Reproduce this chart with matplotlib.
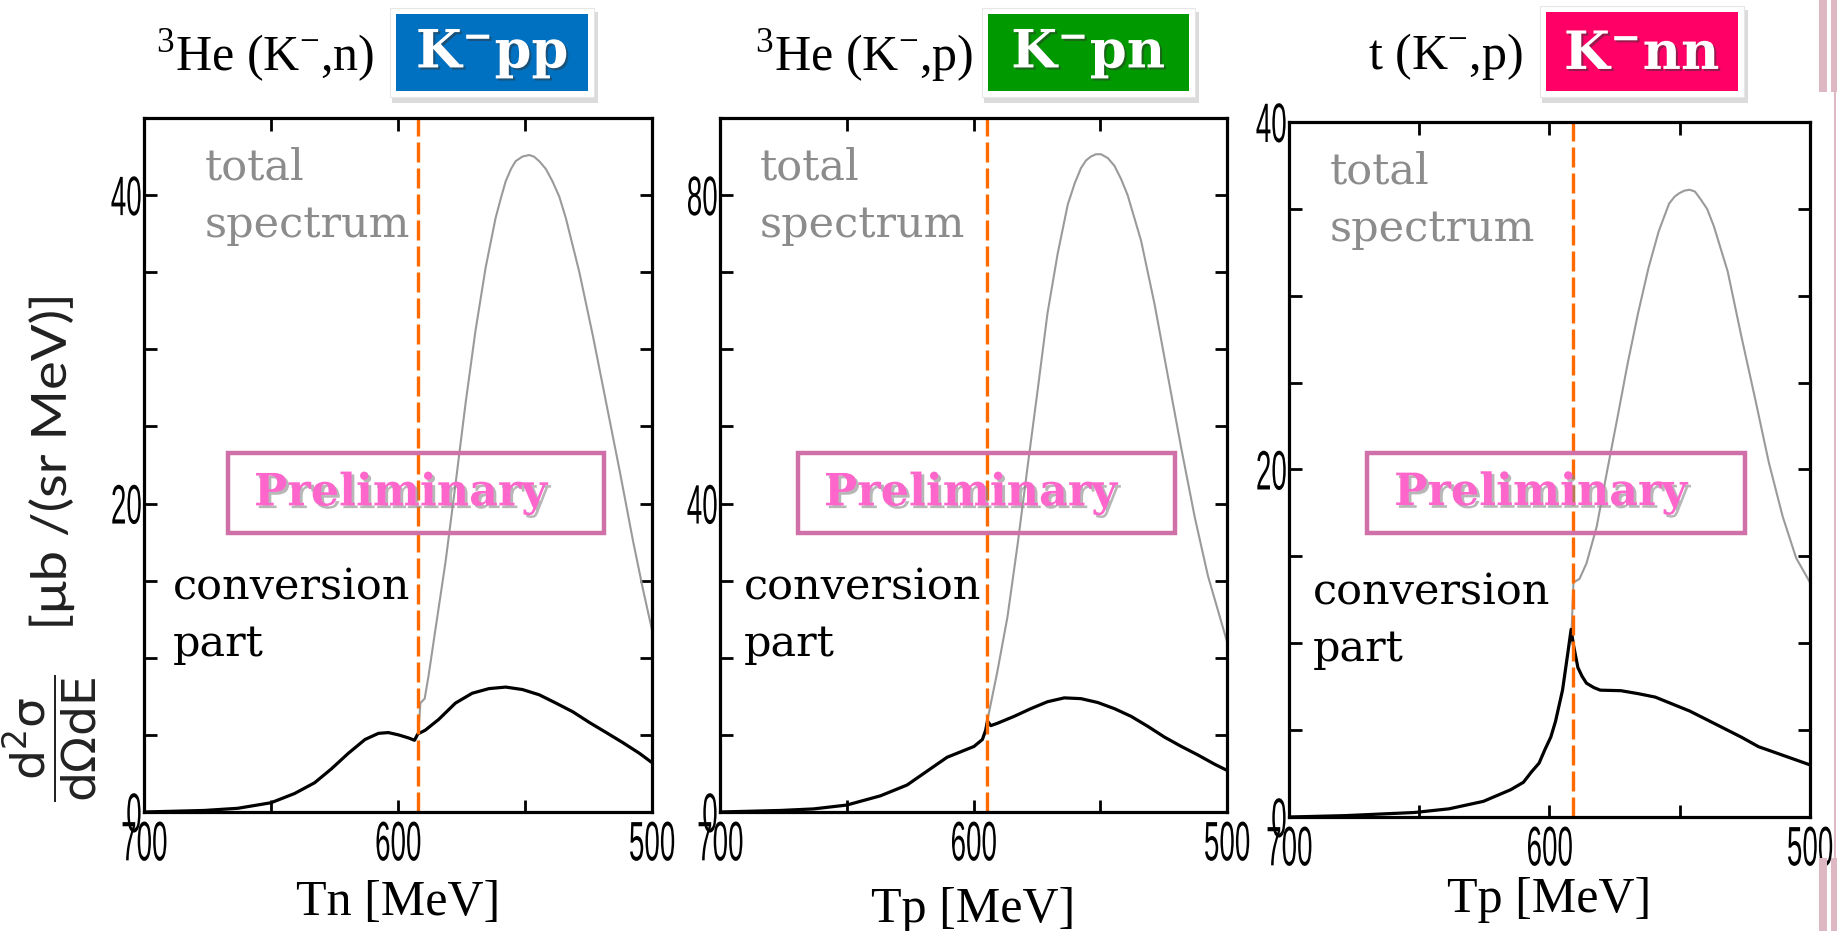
import matplotlib
matplotlib.use('Agg')
import matplotlib.pyplot as plt
from matplotlib.ticker import MultipleLocator
from matplotlib.patches import Rectangle
from matplotlib.transforms import Affine2D
import matplotlib.patheffects as pe

# ---- data ----
# K-pp : 3He(K-,n)
kpp_conv_t = [700, 676.3, 663.1, 650, 640.7, 632.8, 626.2, 619.6, 613, 607.7, 603.8, 599.8, 595.8, 593.5,
              592.2, 589.3, 584, 577.4, 570.8, 564.2, 557.6, 551, 544.4, 537.8, 531.2, 524.6, 518, 511.5, 504.9, 500]
kpp_conv_y = [0, 0.1, 0.24, 0.6, 1.2, 1.9, 2.8, 3.8, 4.7, 5.1, 5.15, 5.0, 4.8, 4.65,
              5.06, 5.3, 6.0, 7.06, 7.7, 8.0, 8.1, 7.94, 7.6, 7.06, 6.5, 5.8, 5.15, 4.5, 3.8, 3.2]
kpp_tot_t = [592, 591.2, 589.5, 588, 585.3, 581.3, 577.4, 573.4, 569.5, 565.5, 561.6, 559.5, 557.6, 555.5,
             553.7, 551, 548.4, 546.5, 544.4, 541.8, 539.2, 536.5, 533.9, 528.6, 523.3, 518, 512.7, 507.5,
             503.5, 500]
kpp_tot_y = [5.06, 7.06, 7.35, 8.8, 11.8, 16.2, 21.2, 26.5, 31.2, 35.3, 38.5, 39.8, 40.9, 41.7,
             42.2, 42.5, 42.6, 42.5, 42.2, 41.7, 40.9, 39.9, 38.5, 35.0, 30.9, 26.5, 22.1, 17.6,
             14.4, 11.8]
kpp_thr = 592

# K-pn : 3He(K-,p)
kpn_conv_t = [700, 676.3, 663.1, 650, 636.7, 626.2, 617, 610.4, 605.1, 599.8, 596.5, 595.2, 594.5, 593.2,
              590.6, 584, 577.4, 570.8, 564.2, 557.6, 551, 544.4, 537.8, 531.2, 524.6, 518, 511.5, 504.9, 500]
kpn_conv_y = [0, 0.2, 0.4, 0.9, 2.1, 3.5, 5.6, 7.1, 7.8, 8.5, 9.4, 10.6, 11.8, 11.2,
              11.5, 12.4, 13.4, 14.3, 14.8, 14.7, 14.2, 13.4, 12.4, 11.1, 9.7, 8.5, 7.4, 6.2, 5.4]
kpn_tot_t = [594.5, 594.2, 590.6, 586.6, 582.6, 578.7, 574.7, 570.8, 566.8, 562.8, 560, 557.6, 555.6,
             553.7, 551.7, 549.7, 547, 544.4, 541.8, 539.2, 533.9, 528.6, 523.3, 518, 512.7, 507.5, 500]
kpn_tot_y = [11.8, 12.4, 18.2, 25.3, 34.7, 44.7, 54.7, 64.7, 72.4, 78.8, 81.6, 83.5, 84.5,
             85.0, 85.3, 85.3, 84.8, 83.8, 82.1, 80.0, 74.1, 65.9, 56.5, 47.1, 38.2, 30.6, 22.1]
kpn_thr = 594.5

# K-nn : t(K-,p)
knn_conv_t = [700, 678.2, 651.8, 638.6, 625.4, 614.9, 610, 606.9, 604, 601.7, 599.5, 597.7, 595, 593,
              591.7, 590.8, 589.1, 587.5, 585.8, 583, 580.5, 572.6, 566, 559.4, 552.8, 546.2, 539.6, 533,
              526.4, 519.8, 513.2, 506.6, 500]
knn_conv_y = [0, 0.08, 0.26, 0.47, 0.9, 1.57, 2.0, 2.6, 3.1, 3.9, 4.6, 5.5, 7.3, 9.4,
              10.8, 9.9, 8.6, 8.1, 7.7, 7.45, 7.3, 7.27, 7.1, 6.9, 6.5, 6.1, 5.6, 5.1,
              4.6, 4.05, 3.7, 3.35, 3.0]
knn_tot_t = [591.5, 590.8, 588.5, 585.8, 581.9, 577.9, 573.9, 570, 566, 562, 558.1, 554.1, 552, 550.2,
             548.2, 546.2, 544.2, 542.2, 539.5, 536.9, 531.6, 526.4, 521.1, 515.8, 510.5, 505.3, 500]
knn_tot_y = [10.8, 13.5, 13.7, 14.6, 16.7, 19.9, 23.0, 26.1, 29.0, 31.6, 33.7, 35.3, 35.7, 35.9,
             36.05, 36.1, 36.0, 35.6, 35.0, 34.0, 31.4, 27.7, 24.1, 20.4, 17.3, 14.9, 13.5]
knn_thr = 591

reactions = ['$^{3}$He (K$^{-}$,n)', '$^{3}$He (K$^{-}$,p)', 't (K$^{-}$,p)']
states = [r'$\mathbf{K^{-}pp}$', r'$\mathbf{K^{-}pn}$', r'$\mathbf{K^{-}nn}$']
state_colors = ['#0070C0', '#009A00', '#FF0066']
xlabels = ['Tn [MeV]', 'Tp [MeV]', 'Tp [MeV]']
ymax = [45, 90, 40]
ymajor = [20, 40, 20]
yminor = [5, 10, 5]

plt.rcParams['mathtext.fontset'] = 'custom'
plt.rcParams['mathtext.rm'] = 'Liberation Serif'
plt.rcParams['mathtext.bf'] = 'DejaVu Serif:bold'


class Squeeze(pe.AbstractPathEffect):
    # scale the glyphs along the text direction (condensed / stretched look)
    def __init__(self, sx, anchor='center'):
        super().__init__()
        self.sx = sx
        self.anchor = anchor

    def draw_path(self, renderer, gc, tpath, affine, rgbFace=None):
        ext = tpath.get_extents()
        cx = ext.x1 if self.anchor == 'right' else (ext.x0 + ext.x1) / 2
        t = Affine2D().translate(-cx, 0).scale(self.sx, 1).translate(cx, 0) + affine
        renderer.draw_path(gc, tpath, t, rgbFace)


W, H = 1837, 931
fig = plt.figure(figsize=(W / 100, H / 100), dpi=100)


def px_box(x0, y0, x1, y1):
    # full-size pixel box (top-down) -> figure fraction rect
    return [x0 / W, 1 - y1 / H, (x1 - x0) / W, (y1 - y0) / H]


ax_boxes = [px_box(144, 118, 652, 812), px_box(720, 118, 1227, 812), px_box(1289, 122, 1810, 817)]
xlabel_y = [-0.097, -0.108, -0.085]
prelim_box = [(0.166, 0.402, 0.906, 0.517), (0.154, 0.402, 0.897, 0.517), (0.150, 0.409, 0.876, 0.524)]
prelim_x = [0.505, 0.494, 0.483]
text_x = [(0.12, 0.057), (0.078, 0.047), (0.078, 0.046)]

curves = [(kpp_conv_t, kpp_conv_y, kpp_tot_t, kpp_tot_y, kpp_thr),
          (kpn_conv_t, kpn_conv_y, kpn_tot_t, kpn_tot_y, kpn_thr),
          (knn_conv_t, knn_conv_y, knn_tot_t, knn_tot_y, knn_thr)]

for i, (ct, cy, tt, ty, thr) in enumerate(curves):
    ax = fig.add_axes(ax_boxes[i])
    ax.plot(tt, ty, color='#9a9a9a', lw=1.5)
    ax.plot(ct, cy, color='black', lw=2.3)
    ax.axvline(thr, color='#FF6A00', lw=2.4, dashes=(6, 1.8))
    ax.set_xlim(700, 500)
    ax.set_ylim(0, ymax[i])
    ax.xaxis.set_major_locator(MultipleLocator(100))
    ax.xaxis.set_minor_locator(MultipleLocator(50))
    ax.yaxis.set_major_locator(MultipleLocator(ymajor[i]))
    ax.yaxis.set_minor_locator(MultipleLocator(yminor[i]))
    ax.tick_params(which='both', direction='in', top=True, right=True, length=9, width=2)
    ax.tick_params(axis='x', labelsize=40, pad=6)
    ax.tick_params(axis='y', labelsize=40, pad=1)
    for lab in ax.get_xticklabels():
        lab.set_family('Liberation Sans')
        lab.set_path_effects([Squeeze(0.5)])
    for lab in ax.get_yticklabels():
        lab.set_family('Liberation Sans')
        lab.set_path_effects([Squeeze(0.5, 'right')])
    for sp in ax.spines.values():
        sp.set_linewidth(2.3)
    ax.set_xlabel(xlabels[i], family='Liberation Serif', fontsize=36, va='top')
    ax.xaxis.set_label_coords(0.5, xlabel_y[i])

    tx, cx = text_x[i]
    ax.text(tx, 0.929, 'total', transform=ax.transAxes, color='#8c8c8c', family='DejaVu Serif',
            fontsize=31, va='center')
    ax.text(tx, 0.846, 'spectrum', transform=ax.transAxes, color='#8c8c8c', family='DejaVu Serif',
            fontsize=31, va='center')
    ax.text(cx, 0.323, 'conversion', transform=ax.transAxes, color='black', family='DejaVu Serif',
            fontsize=31, va='center')
    ax.text(cx, 0.242, 'part', transform=ax.transAxes, color='black', family='DejaVu Serif',
            fontsize=31, va='center')

    bx0, by0, bx1, by1 = prelim_box[i]
    ax.add_patch(Rectangle((bx0, by0), bx1 - bx0, by1 - by0, transform=ax.transAxes, fill=False,
                           edgecolor='#D070A8', lw=3.2, zorder=5))
    ax.text(prelim_x[i], (by0 + by1) / 2, 'Preliminary', transform=ax.transAxes, color='#FF66CC',
            family='DejaVu Serif', fontweight='bold', fontsize=32, ha='center', va='center', zorder=6,
            path_effects=[pe.withSimplePatchShadow(offset=(2, -2), shadow_rgbFace='#888888', alpha=0.6)])

# titles and coloured state boxes
title_x = [265, 864, 1445]
state_px = [(396, 14, 588, 91), (988, 14, 1189, 91), (1546, 12, 1738, 91)]
for i in range(3):
    fig.text(title_x[i] / W, 1 - 56 / H, reactions[i], family='Liberation Serif', fontsize=36,
             ha='center', va='center')
    x0, y0, x1, y1 = state_px[i]
    sb = px_box(x0 - 4, y0 - 2, x1 + 10, y1 + 12)
    fig.add_artist(Rectangle(sb[:2], sb[2], sb[3], transform=fig.transFigure, facecolor='#c4c4c4',
                             edgecolor='none', alpha=0.6))
    ob = px_box(x0 - 6, y0 - 6, x1 + 6, y1 + 6)
    fig.add_artist(Rectangle(ob[:2], ob[2], ob[3], transform=fig.transFigure, facecolor='white',
                             edgecolor='#e6e6e6', lw=0.8))
    ib = px_box(x0, y0, x1, y1)
    fig.add_artist(Rectangle(ib[:2], ib[2], ib[3], transform=fig.transFigure, facecolor=state_colors[i],
                             edgecolor='none'))
    fig.text((x0 + x1) / 2 / W, 1 - 54 / H, states[i], color='white', fontsize=38, ha='center',
             va='center',
             path_effects=[pe.withSimplePatchShadow(offset=(1.5, -1.5), shadow_rgbFace='#333333', alpha=0.5)])

# y label: fraction and unit as two rotated texts
fig.text(50 / W, 1 - 738 / H, r'$\dfrac{\mathrm{d^2\sigma}}{\mathrm{d\Omega dE}}$', rotation=90,
         ha='center', va='center', fontsize=34, color='#222222', math_fontfamily='dejavusans')
fig.text(51 / W, 1 - 462 / H, '[μb /(sr MeV)]', rotation=90, ha='center', va='center', fontsize=35,
         family='Lato', color='#222222', path_effects=[Squeeze(1.12)])

# slide decoration at right edge
for r in [px_box(1819, 0, 1827, 92), px_box(1819, 858, 1827, 931),
          px_box(1831, 0, 1837, 92), px_box(1831, 858, 1837, 931), px_box(1834, 92, 1835.5, 858)]:
    fig.add_artist(Rectangle(r[:2], r[2], r[3], transform=fig.transFigure, facecolor='#DDB8C2',
                             edgecolor='none'))

fig.savefig('out.png', dpi=100)
